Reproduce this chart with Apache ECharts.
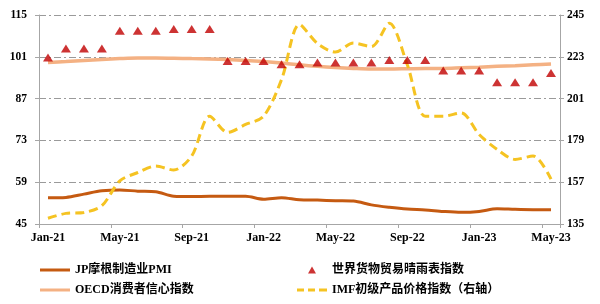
<!DOCTYPE html>
<html><head><meta charset="utf-8">
<script src="https://cdn.jsdelivr.net/npm/echarts@6/dist/echarts.min.js"></script>
<style>html,body{margin:0;padding:0;background:#fff}#c{width:600px;height:304px}</style>
</head><body><div id="c"></div>
<script>
var categories = ['Jan-21','Feb-21','Mar-21','Apr-21','May-21','Jun-21','Jul-21','Aug-21','Sep-21','Oct-21','Nov-21','Dec-21',
  'Jan-22','Feb-22','Mar-22','Apr-22','May-22','Jun-22','Jul-22','Aug-22','Sep-22','Oct-22','Nov-22','Dec-22',
  'Jan-23','Feb-23','Mar-23','Apr-23','May-23'];
var pmi = [53.8, 53.9, 55.0, 56.1, 56.4, 56.0, 55.8, 54.3, 54.2, 54.3, 54.3, 54.3, 53.3, 53.8, 53.1, 53.0, 52.8, 52.7, 51.4, 50.6, 50.0, 49.7, 49.2, 48.9, 49.2, 50.1, 49.9, 49.8, 49.8];
var oecd = [99.1, 99.4, 99.8, 100.1, 100.4, 100.6, 100.6, 100.5, 100.4, 100.3, 100.1, 99.8, 99.4, 98.9, 98.3, 97.8, 97.4, 97.1, 96.9, 96.9, 97.0, 97.1, 97.1, 97.3, 97.5, 97.8, 98.0, 98.3, 98.6];
var wto = [100.8, 103.8, 103.8, 103.8, 109.7, 109.7, 109.7, 110.3, 110.3, 110.3, 99.6, 99.6, 99.6, 98.5, 98.5, 99.1, 99.1, 99.1, 99.1, 99.9, 99.9, 99.9, 96.4, 96.4, 96.4, 92.5, 92.5, 92.5, 95.6];
var imf = [138.0, 140.6, 141.1, 144.6, 157.7, 162.1, 165.5, 163.4, 170.8, 191.7, 183.2, 187.4, 191.7, 211.0, 240.0, 230.0, 225.5, 230.2, 228.4, 240.6, 218.8, 191.7, 191.7, 193.5, 182.1, 174.3, 169.0, 170.8, 158.6];
var leftTicks = {min: 45, max: 115, interval: 14};
var rightTicks = {min: 135, max: 245, interval: 22};
var names = ['JP摩根制造业PMI', 'OECD消费者信心指数', '世界货物贸易晴雨表指数', 'IMF初级产品价格指数（右轴）'];

var font = '"Liberation Serif", "Noto Sans CJK SC", serif';
var solidIcon = 'path://M0,0h30v3h-30z';
var dashIcon = 'path://M0,0h7v3h-7z M11,0h7v3h-7z M22,0h8v3h-8z';
var triIcon = 'path://M4,0L8,7L0,7Z';
var chart = echarts.init(document.getElementById('c'), null, {renderer: 'canvas'});
var legendText = {fontFamily: font, fontWeight: 'bold', fontSize: 12, color: '#000'};
chart.setOption({
  animation: false,
  backgroundColor: '#fff',
  grid: {left: 39, right: 40, top: 15, bottom: 80, containLabel: false},
  legend: [
    {orient: 'vertical', left: 40, top: 264, padding: 0, itemWidth: 30, itemHeight: 7, itemGap: 8, textStyle: legendText,
     data: [{name: names[0], icon: solidIcon}, {name: names[1], icon: solidIcon}]},
    {orient: 'vertical', left: 297, top: 264, padding: 0, itemWidth: 30, itemHeight: 7, itemGap: 8, textStyle: legendText,
     data: [{name: names[2], icon: triIcon}, {name: names[3], icon: dashIcon}]}
  ],
  xAxis: {
    type: 'category', data: categories, boundaryGap: true,
    axisLine: {lineStyle: {color: '#A6A6A6', width: 1}},
    axisTick: {show: true, interval: 3, length: 4, lineStyle: {color: '#A6A6A6'}},
    axisLabel: {interval: 3, margin: 8, fontFamily: font, fontWeight: 'bold', fontSize: 12, color: '#000'}
  },
  yAxis: [
    {type: 'value', min: leftTicks.min, max: leftTicks.max, interval: leftTicks.interval,
     axisLine: {show: true, lineStyle: {color: '#A6A6A6'}},
     axisTick: {show: true, length: 4, lineStyle: {color: '#A6A6A6'}},
     axisLabel: {margin: 12, fontFamily: font, fontWeight: 'bold', fontSize: 11.5, color: '#000'},
     splitLine: {show: true, lineStyle: {color: '#9A9A9A', width: 1, type: [7, 3, 2, 3]}}},
    {type: 'value', min: rightTicks.min, max: rightTicks.max, interval: rightTicks.interval, position: 'right',
     axisLine: {show: true, lineStyle: {color: '#A6A6A6'}},
     axisTick: {show: true, length: 4, lineStyle: {color: '#A6A6A6'}},
     axisLabel: {margin: 7, fontFamily: font, fontWeight: 'bold', fontSize: 11.5, color: '#000'},
     splitLine: {show: false}}
  ],
  series: [
    {name: names[0], type: 'line', data: pmi, yAxisIndex: 0, smooth: 0.3, symbol: 'none', showSymbol: false,
     lineStyle: {color: '#C55A11', width: 3}, itemStyle: {color: '#C55A11'}, z: 3},
    {name: names[1], type: 'line', data: oecd, yAxisIndex: 0, smooth: 0.3, symbol: 'none', showSymbol: false,
     lineStyle: {color: '#F4B183', width: 3.5}, itemStyle: {color: '#F4B183'}, z: 2},
    {name: names[2], type: 'scatter', data: wto, yAxisIndex: 0, symbol: 'triangle', symbolSize: [10, 8],
     itemStyle: {color: '#C00000'}, z: 5},
    {name: names[3], type: 'line', data: imf, yAxisIndex: 1, smooth: 0.3, symbol: 'none', showSymbol: false,
     lineStyle: {color: '#F5C322', width: 3, type: [9, 5]}, itemStyle: {color: '#F5C322'}, z: 4}
  ]
});
</script></body></html>
